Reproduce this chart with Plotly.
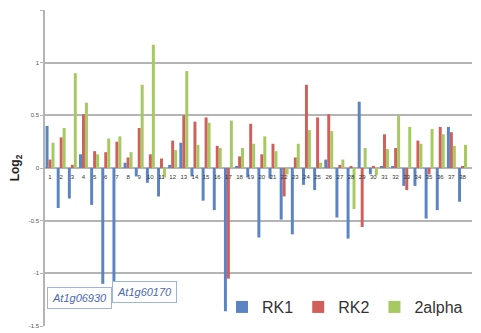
import plotly.graph_objects as go

categories = list(range(1, 39))
tick_labels = [str(c) for c in categories]

rk1 = [0.40, -0.38, -0.29, 0.13, -0.35, -1.10, -1.11, 0.05, -0.08, -0.14,
       -0.27, 0.03, 0.24, -0.08, -0.31, -0.40, -1.36, 0.02, -0.09, -0.66,
       -0.10, -0.49, -0.63, -0.16, -0.21, 0.08, -0.47, -0.67, 0.63, -0.06,
       0.01, 0.01, -0.17, -0.17, -0.48, -0.40, 0.39, -0.32]
rk2 = [0.08, 0.29, 0.03, 0.51, 0.16, 0.15, 0.25, 0.10, 0.38, 0.13,
       0.09, 0.26, 0.50, 0.44, 0.48, 0.21, -1.05, 0.11, 0.42, 0.13,
       0.23, -0.27, 0.10, 0.79, 0.48, 0.51, 0.03, 0.01, -0.56, 0.02,
       0.32, 0.19, -0.21, 0.26, -0.06, 0.39, 0.34, 0.01]
alpha2 = [0.24, 0.38, 0.90, 0.62, 0.13, 0.28, 0.30, 0.15, 0.79, 1.17,
          -0.09, 0.17, 0.92, 0.22, 0.43, 0.19, 0.45, 0.19, 0.23, 0.30,
          0.16, -0.06, 0.23, 0.36, 0.05, 0.35, 0.08, -0.39, 0.19, -0.07,
          0.18, 0.50, 0.39, 0.23, 0.37, 0.32, 0.21, 0.22]

series_names = ["RK1", "RK2", "2alpha"]
series_colors = ["#5a84c4", "#d0605b", "#a6c962"]

gene_labels = ["At1g06930", "At1g60170"]
gene_pos = [(3.62, -1.23), (9.5, -1.175)]

fig = go.Figure()
for name, vals, col in zip(series_names, [rk1, rk2, alpha2], series_colors):
    fig.add_trace(go.Bar(x=categories, y=vals, name=name,
                         marker=dict(color=col, line=dict(width=0))))

for txt, (gx, gy) in zip(gene_labels, gene_pos):
    fig.add_annotation(x=gx, y=gy, xref="x", yref="y", text="<i>" + txt + "</i>",
                       showarrow=False, font=dict(family="Arial, Liberation Sans", size=11, color="#4a68b0"),
                       bgcolor="white", bordercolor="#9fb3dc", borderwidth=1, borderpad=4)

fig.update_layout(
    width=473, height=325,
    margin=dict(l=37, r=9, t=2, b=7, autoexpand=False),
    paper_bgcolor="white", plot_bgcolor="white",
    barmode="group", bargap=0.2, bargroupgap=0,
    font=dict(family="Arial, Liberation Sans", color="#333333"),
    legend=dict(orientation="h", x=0.4145, y=0.06, xanchor="left", yanchor="middle",
                font=dict(size=16, color="#333333"), bgcolor="rgba(0,0,0,0)",
                itemwidth=30, tracegroupgap=0),
    xaxis=dict(range=[0.55, 38.85], tickvals=categories, ticktext=tick_labels,
               anchor="free", position=0.5, showgrid=False, zeroline=False,
               showline=False, ticks="outside", ticklen=3, tickcolor="rgba(0,0,0,0)",
               tickfont=dict(size=6, color="#333333"), tickangle=0),
    yaxis=dict(range=[-1.5, 1.5], tickvals=[-1.5, -1, -0.5, 0, 0.5, 1, 1.5],
               ticktext=["-1.5", "-1", "-0.5", "0", "0.5", "1", "1.5"],
               showgrid=True, gridcolor="#b4b4b4", gridwidth=1.5,
               zeroline=False, showline=True, linecolor="#b4b4b4", linewidth=1.5,
               ticks="outside", ticklen=3, tickcolor="#b4b4b4",
               tickfont=dict(size=6, color="#555555"),
               title=dict(text="<b>Log<sub>2</sub></b>", font=dict(size=12, color="#222222"), standoff=11)),
)

fig.write_html("out.html")
